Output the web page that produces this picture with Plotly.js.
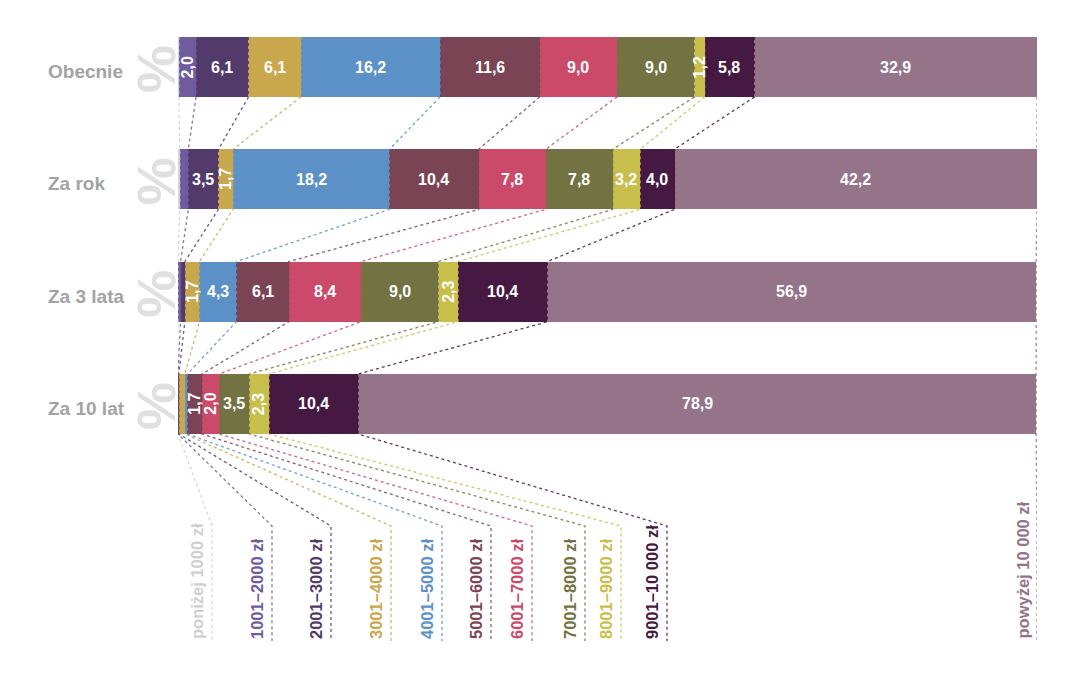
<!DOCTYPE html>
<html>
<head>
<meta charset="utf-8">
<script src="https://cdn.plot.ly/plotly-3.0.1.min.js"></script>
<style>
  html, body { margin: 0; padding: 0; background: #ffffff; }
  #chart { width: 1080px; height: 675px; }
</style>
</head>
<body>
<div id="chart"></div>
<script>
// ---------- DATA ----------
const rows = ['Obecnie', 'Za rok', 'Za 3 lata', 'Za 10 lat'];
const categories = ['poniżej 1000 zł', '1001–2000 zł', '2001–3000 zł', '3001–4000 zł', '4001–5000 zł',
  '5001–6000 zł', '6001–7000 zł', '7001–8000 zł', '8001–9000 zł', '9001–10 000 zł', 'powyżej 10 000 zł'];

const vPonizej1000 = [0.1, 0.2, 0.0, 0.0];
const v1001_2000   = [2.0, 1.0, 0.3, 0.0];
const v2001_3000   = [6.1, 3.5, 0.5, 0.1];
const v3001_4000   = [6.1, 1.7, 1.7, 0.7];
const v4001_5000   = [16.2, 18.2, 4.3, 0.3];
const v5001_6000   = [11.6, 10.4, 6.1, 1.7];
const v6001_7000   = [9.0, 7.8, 8.4, 2.0];
const v7001_8000   = [9.0, 7.8, 9.0, 3.5];
const v8001_9000   = [1.2, 3.2, 2.3, 2.3];
const v9001_10000  = [5.8, 4.0, 10.4, 10.4];
const vPowyzej     = [32.9, 42.2, 56.9, 78.9];

const series = [vPonizej1000, v1001_2000, v2001_3000, v3001_4000, v4001_5000,
  v5001_6000, v6001_7000, v7001_8000, v8001_9000, v9001_10000, vPowyzej];

// ---------- STYLE ----------
const colors = ['#d6d6d6', '#6e5c9e', '#523b6b', '#c9a74d', '#5b91c7', '#7a4454',
  '#cb4a6a', '#727242', '#c8be4c', '#451941', '#957388'];
const labelColors = ['#cfcfcf', '#6e5c9e', '#523b6b', '#c9a74d', '#5b91c7', '#7a4454',
  '#cb4a6a', '#727242', '#c8be4c', '#451941', '#957388'];

// layout geometry (pixels)
const G = { x0: 178, x1: 1037, row0: 67, pitch: 112.33, top: 30, bottom: 645 };
const legendLineX = [212, 272, 331, 391, 442, 491, 532, 585, 621, 667, 1037];
const legendTopY = 526, legendBotY = 641;
const barWidth = 0.535;
const FONT = 'Liberation Sans, Arial, Helvetica, sans-serif';

const xData = px => (px - G.x0) / (G.x1 - G.x0) * 100;
const yData = py => (py - G.row0) / G.pitch;
const xPaper = px => (px - G.x0) / (G.x1 - G.x0);

const yIdx = rows.map((_, i) => i);

// ---------- TRACES ----------
const traces = [];
series.forEach((vals, k) => {
  traces.push({
    type: 'bar', orientation: 'h',
    x: vals, y: yIdx, width: barWidth,
    marker: { color: colors[k], line: { width: 0 } },
    name: categories[k], hoverinfo: 'skip', showlegend: false
  });
});

// cumulative ends
const cumStart = series.map(() => rows.map(() => 0));
const cumEnd = series.map(() => rows.map(() => 0));
rows.forEach((_, r) => {
  let acc = 0;
  series.forEach((vals, k) => {
    cumStart[k][r] = acc;
    acc += vals[r];
    cumEnd[k][r] = acc;
  });
});

// connector dashed lines
series.forEach((vals, k) => {
  const xs = [], ys = [];
  rows.forEach((_, r) => {
    xs.push(cumEnd[k][r]); ys.push(r - barWidth / 2);
    xs.push(cumEnd[k][r]); ys.push(r + barWidth / 2);
  });
  xs.push(xData(legendLineX[k])); ys.push(yData(legendTopY));
  xs.push(xData(legendLineX[k])); ys.push(yData(legendBotY));
  traces.push({
    type: 'scatter', mode: 'lines', x: xs, y: ys,
    line: { color: labelColors[k], width: 1.3, dash: '3px,3px' },
    opacity: 0.85, hoverinfo: 'skip', showlegend: false, cliponaxis: false
  });
});

// ---------- ANNOTATIONS ----------
const annotations = [];
const fmt = v => v.toFixed(1).replace('.', ',');

series.forEach((vals, k) => {
  vals.forEach((v, r) => {
    if (v < 1.2) return;
    const rotated = v <= 2.3;
    annotations.push({
      x: cumStart[k][r] + v / 2, y: r, xref: 'x', yref: 'y',
      text: fmt(v), showarrow: false, textangle: rotated ? -90 : 0,
      xanchor: 'center', yanchor: 'middle',
      font: { family: FONT, size: 16, color: '#ffffff', weight: 700 }
    });
  });
});

rows.forEach((name, r) => {
  annotations.push({
    x: xPaper(46), y: r + 0.04, xref: 'paper', yref: 'y',
    text: name, showarrow: false, xanchor: 'left', yanchor: 'middle',
    font: { family: FONT, size: 19, color: '#a3a3a3', weight: 700 }
  });
  annotations.push({
    x: xPaper(157), y: r + 0.02, xref: 'paper', yref: 'y',
    text: '%', showarrow: false, textangle: 90, xanchor: 'center', yanchor: 'middle',
    font: { family: FONT, size: 54, color: '#e0e0e0', weight: 700 }
  });
});

categories.forEach((name, k) => {
  annotations.push({
    x: xData(legendLineX[k] - 4), y: yData(legendBotY), xref: 'x', yref: 'y',
    text: name, showarrow: false, textangle: -90, xanchor: 'right', yanchor: 'bottom',
    font: { family: FONT, size: 16.5, color: labelColors[k], weight: 700 }
  });
});

const layout = {
  width: 1080, height: 675,
  margin: { l: G.x0, r: 1080 - G.x1, t: G.top, b: 675 - G.bottom, pad: 0 },
  paper_bgcolor: '#ffffff', plot_bgcolor: '#ffffff',
  barmode: 'stack', bargap: 0,
  showlegend: false,
  xaxis: { range: [0, 100], showgrid: false, zeroline: false, showticklabels: false, showline: false, fixedrange: true },
  yaxis: { range: [yData(G.bottom), yData(G.top)], showgrid: false, zeroline: false, showticklabels: false, showline: false, fixedrange: true },
  annotations: annotations
};

Plotly.newPlot('chart', traces, layout, { displayModeBar: false, staticPlot: true });
</script>
</body>
</html>
